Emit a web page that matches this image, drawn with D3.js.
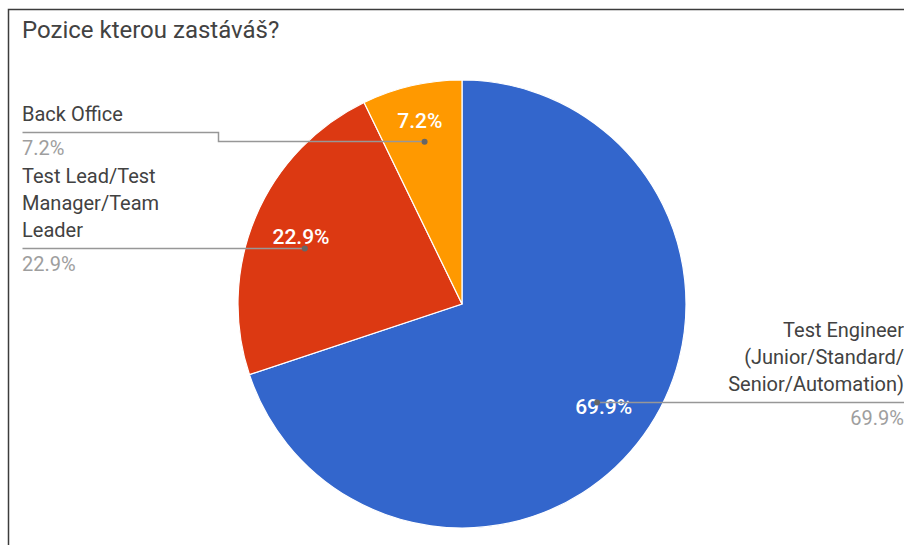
<!DOCTYPE html>
<html>
<head>
<meta charset="utf-8">
<script src="https://cdnjs.cloudflare.com/ajax/libs/d3/7.8.5/d3.min.js"></script>
<style>
  body { margin: 0; background: #fff; }
  svg { display: block; font-family: Roboto, "Noto Sans", Arial, sans-serif; }
</style>
</head>
<body>
<svg width="904" height="545"></svg>
<script>
// data
const title = "Pozice kterou zastáváš?"
const categories = [
  ["Test Engineer", "(Junior/Standard/", "Senior/Automation)"],
  ["Test Lead/Test", "Manager/Team", "Leader"],
  ["Back Office"]
]
const values = [69.9, 22.9, 7.2]
const colors = ["#3366cc", "#dc3912", "#ff9900"]

const svg = d3.select("svg")
const W = 904, H = 545
const cx = 462, cy = 304, R = 224
const lineH = 27

// card border (left + top only, rest is cropped)
svg.append("path")
  .attr("d", `M8.5,${H} L8.5,9.5 L${W},9.5`)
  .attr("fill", "none").attr("stroke", "#3c3c3c").attr("stroke-width", 1.5)

svg.append("text")
  .attr("x", 22).attr("y", 38)
  .attr("font-size", 24).attr("fill", "#424242")
  .text(title)

const pie = d3.pie().sort(null).value(d => d)
const arcs = pie(values)
const arc = d3.arc().innerRadius(0).outerRadius(R)

const g = svg.append("g").attr("transform", `translate(${cx},${cy})`)

g.selectAll("path.slice")
  .data(arcs)
  .enter().append("path")
  .attr("class", "slice")
  .attr("d", arc)
  .attr("fill", (d, i) => colors[i])
  .attr("stroke", "#fff").attr("stroke-width", 1.2)

// inside percentage labels
function pct(v) { return v.toFixed(1) + "%" }
g.selectAll("text.inner")
  .data(arcs)
  .enter().append("text")
  .attr("class", "inner")
  .attr("transform", d => {
    let frac = (d.endAngle - d.startAngle) / (2 * Math.PI)
    let r = frac < 0.1 ? R * 0.84 : R * 0.78
    let c = d3.arc().innerRadius(r).outerRadius(r).centroid(d)
    return `translate(${c[0]},${c[1] + 7.5})`
  })
  .attr("text-anchor", "middle")
  .attr("font-size", 21).attr("font-weight", 500)
  .attr("fill", "#fff")
  .text(d => pct(d.data))

// leader lines + outside labels
const rDot = R * 0.745
const dotArc = d3.arc().innerRadius(rDot).outerRadius(rDot)
let items = arcs.map((d, i) => {
  let c = dotArc.centroid(d)
  return { i: i, d: d, dx: cx + c[0], dy: cy + c[1], side: c[0] > 0 ? "right" : "left", lines: categories[i] }
})
items.forEach(it => { it.ly = it.dy })

// spread overlapping label blocks apart, both move by half
function blockTop(it) { return it.ly - 11 - (it.lines.length - 1) * lineH - 17 }
function blockBottom(it) { return it.ly + 28 }
let leftItems = items.filter(it => it.side == "left").sort((a, b) => a.ly - b.ly)
for (let k = 1; k < leftItems.length; k++) {
  let above = leftItems[k - 1], below = leftItems[k]
  let overlap = blockBottom(above) + 6 - blockTop(below)
  if (overlap > 0) {
    above.ly -= overlap / 2
    below.ly += overlap / 2
  }
}

// if the label line can hit the slice horizontally, slide the dot there
items.forEach(it => {
  it.ly = Math.round(it.ly)
  let yy = it.ly - cy
  if (Math.abs(yy) < rDot) {
    let xx = Math.sqrt(rDot * rDot - yy * yy) * (it.side == "left" ? -1 : 1)
    let a = Math.atan2(xx, -yy)
    if (a < 0) a += 2 * Math.PI
    if (a >= it.d.startAngle && a <= it.d.endAngle) {
      it.dx = cx + xx
      it.dy = it.ly
    }
  }
})

const leftX = 22, elbowX = 218, rightX = 904
items.forEach(it => {
  let pts
  if (it.side == "left") {
    pts = Math.abs(it.ly - it.dy) < 1
      ? [[it.dx, it.dy], [leftX, it.ly]]
      : [[it.dx, it.dy], [elbowX, it.dy], [elbowX, it.ly], [leftX, it.ly]]
  } else {
    pts = [[it.dx, it.dy], [rightX, it.ly]]
  }
  svg.append("path")
    .attr("d", d3.line()(pts.map(p => [Math.round(p[0]) + 0.5, Math.round(p[1]) + 0.5])))
    .attr("fill", "none").attr("stroke", "#979797").attr("stroke-width", 1.5)
  svg.append("circle")
    .attr("cx", it.dx).attr("cy", it.dy + 0.5).attr("r", 3)
    .attr("fill", "#666")

  let x = it.side == "left" ? leftX : rightX
  let anchor = it.side == "left" ? "start" : "end"
  let n = it.lines.length
  let t = svg.append("text")
    .attr("text-anchor", anchor)
    .attr("font-size", 20).attr("fill", "#424242")
  it.lines.forEach((s, k) => {
    t.append("tspan").attr("x", x).attr("y", it.ly - 11 - (n - 1 - k) * lineH).text(s)
  })
  svg.append("text")
    .attr("x", x).attr("y", it.ly + 23)
    .attr("text-anchor", anchor)
    .attr("font-size", 20).attr("fill", "#9e9e9e")
    .text(pct(it.d.data))
})
</script>
</body>
</html>
